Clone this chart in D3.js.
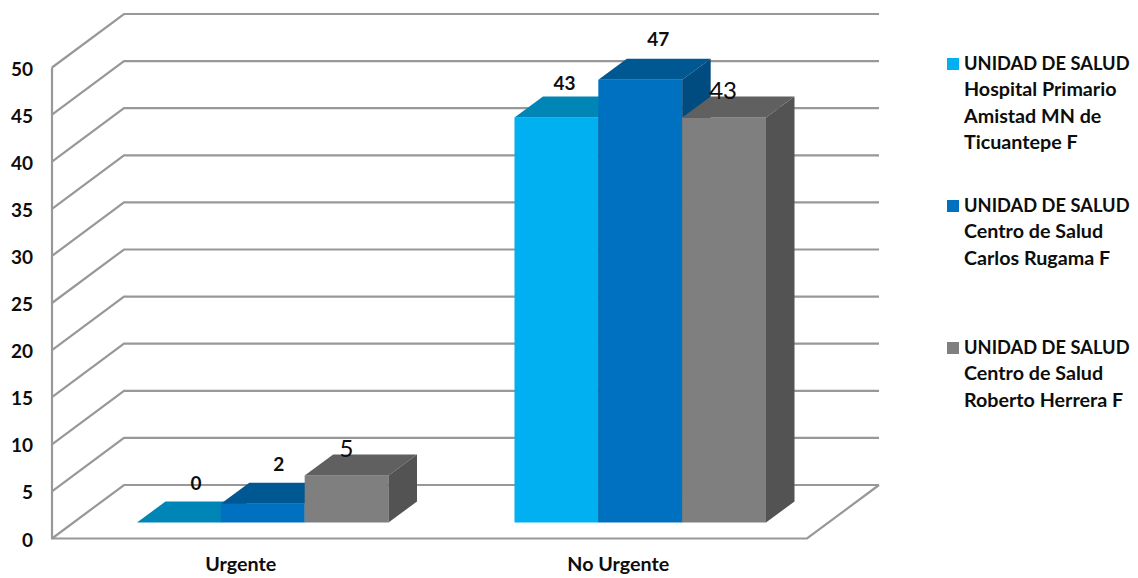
<!DOCTYPE html>
<html>
<head>
<meta charset="utf-8">
<script src="https://cdn.jsdelivr.net/npm/d3@7"></script>
<style>
  html, body { margin: 0; padding: 0; background: #fff; }
  text { font-family: Lato, "Open Sans", sans-serif; fill: #0d0d0d; }
</style>
</head>
<body>
<script>
var categories = ['Urgente', 'No Urgente'];
var seriesNames = [
  ['UNIDAD DE SALUD', 'Hospital Primario', 'Amistad MN de', 'Ticuantepe F'],
  ['UNIDAD DE SALUD', 'Centro de Salud', 'Carlos Rugama F'],
  ['UNIDAD DE SALUD', 'Centro de Salud', 'Roberto Herrera F']
];
var seriesValues = [
  [0, 43],
  [2, 47],
  [5, 43]
];
var tickValues = [0, 5, 10, 15, 20, 25, 30, 35, 40, 45, 50];

var frontColors = ['#00b0f0', '#0070c0', '#7f7f7f'];
var topColors = ['#0086b6', '#005892', '#606060'];
var sideColors = ['#00547a', '#004b7f', '#535353'];
var gridColor = '#989898';

// the data labels don't sit evenly over the bars, [dx, dy] per series per category
var labelNudge = [
  [[17, -39], [8, -34]],
  [[16, -39], [18, -40]],
  [[0, -27], [-1, -27]]
];
var legendRows = [58, 200, 342];

var svgWidth = 1138;
var svgHeight = 578;

// wall depth and bar depth, the projection is just a fixed shear
var wallDx = 72;
var wallDy = -53.5;
var barDx = 28.5;
var barDy = -21;
var barShift = [22, -16];

var svg = d3.select('body')
            .append('svg')
            .attr('width', svgWidth)
            .attr('height', svgHeight)
            .style('display', 'block');

var y = d3.scaleLinear().domain([0, 50]).range([538.5, 67.5]);
var x = d3.scaleBand().domain(categories).range([52, 807]);
var xBars = d3.scaleBand().domain(categories).range([52 + barShift[0], 807 + barShift[0]]).paddingInner(0);
var seriesX = d3.scaleBand().domain(d3.range(seriesValues.length)).range([63, x.bandwidth() - 63]);

// grid lines run across the back wall and come forward along the left wall
var grid = svg.append('g')
              .attr('fill', 'none')
              .attr('stroke', gridColor)
              .attr('stroke-width', 2.2);

grid.selectAll('polyline')
    .data(tickValues)
    .enter()
    .append('polyline')
    .attr('points', function (d) {
        var right = 807 + wallDx;
        return [[52, y(d)], [52 + wallDx, y(d) + wallDy], [right, y(d) + wallDy]].join(' ');
    });

// front edge of the floor and the left wall
grid.append('polyline')
    .attr('points', [
        [52, y(50)],
        [52, y(0)],
        [807, y(0)],
        [807 + wallDx, y(0) + wallDy]
    ].join(' '));

// bars
var bars = svg.append('g');
seriesValues.forEach(function (values, s) {
    values.forEach(function (v, c) {
        var left = xBars(categories[c]) + seriesX(s);
        var w = seriesX.bandwidth();
        var base = y(0) + barShift[1];
        var top = y(v) + barShift[1];

        bars.append('rect')
            .attr('x', left)
            .attr('y', top)
            .attr('width', w)
            .attr('height', base - top)
            .attr('fill', frontColors[s]);

        bars.append('polygon')
            .attr('points', [
                [left, top],
                [left + barDx, top + barDy],
                [left + w + barDx, top + barDy],
                [left + w, top]
            ].join(' '))
            .attr('fill', topColors[s]);

        if (v > 0) {
            bars.append('polygon')
                .attr('points', [
                    [left + w, top],
                    [left + w + barDx, top + barDy],
                    [left + w + barDx, base + barDy],
                    [left + w, base]
                ].join(' '))
                .attr('fill', sideColors[s]);
        }
    });
});

// data labels, the third series is set larger and not bold
seriesValues.forEach(function (values, s) {
    values.forEach(function (v, c) {
        var left = xBars(categories[c]) + seriesX(s);
        var plain = s === 2;
        svg.append('text')
           .attr('x', left + seriesX.bandwidth() / 2 + labelNudge[s][c][0])
           .attr('y', y(v) + barShift[1] + labelNudge[s][c][1])
           .attr('dy', '0.35em')
           .attr('text-anchor', 'middle')
           .attr('font-size', plain ? 24 : 19)
           .attr('font-weight', plain ? 400 : 700)
           .text(v);
    });
});

// value axis
var yAxis = svg.append('g')
               .attr('transform', 'translate(52,1.5)')
               .call(d3.axisLeft(y).tickValues(tickValues).tickSize(0).tickPadding(19));
yAxis.select('.domain').remove();
yAxis.selectAll('text')
     .attr('font-size', 19)
     .attr('font-weight', 700)
     .style('font-family', 'Lato, "Open Sans", sans-serif');

// category axis
var xAxis = svg.append('g')
               .attr('transform', 'translate(0,' + y(0) + ')')
               .call(d3.axisBottom(x).tickSize(0).tickPadding(19));
xAxis.select('.domain').remove();
xAxis.selectAll('text')
     .attr('font-size', 19.7)
     .attr('font-weight', 700)
     .style('font-family', 'Lato, "Open Sans", sans-serif');

// legend
var legend = svg.selectAll('.legend')
                .data(seriesNames)
                .enter()
                .append('g')
                .attr('class', 'legend')
                .attr('transform', function (d, i) {
                    return 'translate(947,' + legendRows[i] + ')';
                });

legend.append('rect')
      .attr('width', 12)
      .attr('height', 12)
      .attr('fill', function (d, i) { return frontColors[i]; });

// the caps line runs wide in Lato, so it gets a smaller size than the rest
legend.selectAll('text')
      .data(function (d) { return d; })
      .enter()
      .append('text')
      .attr('x', 17)
      .attr('y', function (d, i) { return 12 + i * 26.3; })
      .attr('font-size', function (d, i) { return i === 0 ? 18.3 : 19.7; })
      .attr('font-weight', 700)
      .text(function (d) { return d; });
</script>
</body>
</html>
